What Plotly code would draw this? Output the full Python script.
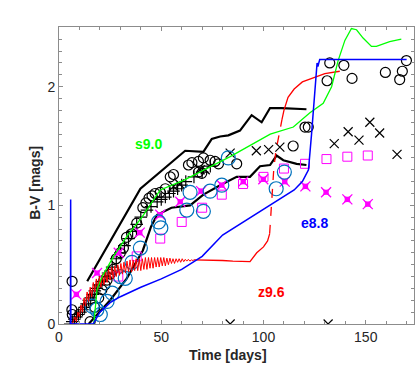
import plotly.graph_objects as go

# ---- model curves ----
# e8.8 (blue)
e88_spike_t = [5.6, 5.7, 5.8, 16.7]
e88_spike_v = [0.0, 1.05, 0.0, 0.0]
e88_t = [16.7, 20, 25, 30, 40, 50, 60, 70, 80, 90, 100, 110, 115, 119, 122,
         123.5, 125.5, 126.2, 126.6, 127.5, 150, 170]
e88_v = [0.0, 0.1, 0.18, 0.23, 0.31, 0.38, 0.46, 0.57, 0.75, 0.86, 0.97, 1.08,
         1.13, 1.2, 1.3, 1.6, 2.0, 2.2, 2.17, 2.23, 2.23, 2.23]

# z9.6 (red): noisy early part, smooth plateau, dashed jump, late rise
z96_noisy_t = [6.5, 7, 7.75, 8.5, 9.25, 10, 10.75, 11.5, 12.25, 13, 13.75, 14.5,
               15.25, 16, 16.75, 17.5, 18.25, 19, 19.75, 20.5, 21.25, 22, 22.75,
               23.5, 24.25, 25, 25.75, 26.5, 27.25, 28, 28.75, 29.5, 30.25, 31,
               31.75, 32.5, 33.25, 34, 34.75, 35.5, 36.25, 37, 37.75, 38.5,
               39.25, 40, 40.75, 41.5, 42.25, 43, 43.75, 44.5, 45.25, 46, 46.75,
               47.5, 48.25, 49, 49.75, 50.5, 51.25, 52, 52.75, 53.5, 54.25, 55,
               55.75, 56.5, 57.25, 58, 58.75, 59.5, 60.25, 61, 61.75, 62.5,
               63.25, 64, 64.75, 65.5, 66]
z96_noisy_v = [0.0, 0.02, 0.06, 0.02, 0.10, 0.06, 0.16, 0.10, 0.22, 0.15, 0.27,
               0.19, 0.31, 0.23, 0.35, 0.27, 0.38, 0.29, 0.40, 0.31, 0.42, 0.33,
               0.44, 0.35, 0.46, 0.37, 0.48, 0.38, 0.49, 0.40, 0.50, 0.41, 0.51,
               0.42, 0.52, 0.43, 0.53, 0.44, 0.54, 0.44, 0.54, 0.45, 0.55, 0.45,
               0.55, 0.45, 0.55, 0.46, 0.56, 0.46, 0.56, 0.47, 0.56, 0.47, 0.56,
               0.48, 0.56, 0.48, 0.56, 0.49, 0.56, 0.49, 0.555, 0.50, 0.555,
               0.51, 0.55, 0.51, 0.55, 0.52, 0.55, 0.52, 0.55, 0.525, 0.545,
               0.53, 0.545, 0.53, 0.54, 0.535, 0.54]
z96_t = [66, 70, 75, 80, 85, 90, 93.4, 96.7, 100, 102, 103]
z96_v = [0.54, 0.54, 0.54, 0.535, 0.53, 0.525, 0.525, 0.60, 0.65, 0.70, 0.76]
z96_dash_t = [103, 103.5, 104, 105, 106, 107.5, 109]
z96_dash_v = [0.76, 0.9, 1.1, 1.3, 1.45, 1.6, 1.72]
z96_late_t = [109, 110, 112, 115, 119, 125, 130, 137.3]
z96_late_v = [1.72, 1.80, 1.91, 1.98, 2.04, 2.08, 2.11, 2.13]

# s9.0 (green)
s90_t = [17, 18.6, 21.1, 26.7, 33.3, 40.6, 49.5, 60.9, 83.7, 103.3, 114.6,
         122.7, 129.2, 133.3, 136.5, 139.8, 143, 145.5, 148.7, 152.8, 155.2,
         161.7, 167.4]
s90_v = [0.0, 0.29, 0.40, 0.57, 0.74, 0.90, 1.13, 1.21, 1.41, 1.60, 1.66, 1.78,
         1.86, 2.0, 2.22, 2.39, 2.49, 2.48, 2.41, 2.34, 2.34, 2.38, 2.40]

# black envelope lines
upper_t = [13.8, 39.8, 61.7, 70.6, 74.7, 78.8, 82.8, 88.5, 94.2, 99.1, 103.2,
           108.9, 121]
upper_v = [0.36, 1.14, 1.46, 1.45, 1.56, 1.58, 1.59, 1.63, 1.76, 1.70, 1.82,
           1.82, 1.81]
lower_t = [14.5, 25, 33, 41, 45, 48, 55, 64.1, 70.6, 78.8, 86.9, 93.4, 98.3,
           103.2, 106.4, 109.7, 116.2, 121]
lower_v = [0.0, 0.2, 0.38, 0.62, 0.82, 0.92, 0.98, 1.0, 1.09, 1.17, 1.24, 1.24,
           1.33, 1.34, 1.42, 1.38, 1.35, 1.34]

# ---- observations ----
circ_t = [6.4, 6.3, 6.5, 15.2, 17.5, 19.4, 21, 22.5, 23.5, 25, 26.5, 28, 30,
          31.5, 33, 35.5, 38, 41, 42.5, 44, 45.5, 47, 49.5, 52, 54.4, 56, 63.3,
          65, 68.2, 70.6, 73.9, 76.3, 78, 86.9, 68.2, 69.8, 114.5, 120.3, 121.9,
          131.1, 132.4, 139.3, 143.3, 159.6, 166.6, 167.9, 169.9]
circ_v = [0.36, 0.12, 0.08, 0.02, 0.14, 0.22, 0.29, 0.33, 0.37, 0.42, 0.46,
          0.55, 0.6, 0.64, 0.73, 0.76, 0.85, 0.98, 1.02, 1.06, 1.08, 1.1, 1.11,
          1.14, 1.24, 1.26, 1.34, 1.36, 1.37, 1.4, 1.38, 1.37, 1.35, 1.35, 1.28,
          1.27, 1.5, 1.66, 1.66, 2.05, 2.2, 2.18, 2.07, 2.12, 2.06, 2.13, 2.22]

plus_t = [5.5, 6.5, 7.5, 8.5, 9.5, 10.5, 11.5, 12.5, 13.5, 14.5, 15.5, 16.5,
          17.5, 18.5, 19.5, 21, 22.5, 24, 26, 28, 30, 32, 34, 36, 38, 40, 43,
          45, 48, 50, 52, 54, 56, 58, 60, 62, 66, 70, 74]
plus_v = [0.0, 0.02, 0.04, 0.06, 0.08, 0.1, 0.12, 0.14, 0.17, 0.2, 0.22, 0.25,
          0.28, 0.3, 0.33, 0.36, 0.4, 0.43, 0.48, 0.55, 0.6, 0.66, 0.72, 0.78,
          0.84, 0.9, 0.96, 0.99, 1.03, 1.05, 1.07, 1.1, 1.12, 1.14, 1.17, 1.2,
          1.24, 1.28, 1.33]

cross_t = [56, 59, 69, 71.5, 83.7, 96.5, 102.5, 108, 134.6, 141.4, 146.7, 152,
           156.8, 165.3, 83.7, 131.6]
cross_v = [1.16, 1.18, 1.3, 1.3, 1.44, 1.46, 1.47, 1.49, 1.52, 1.62, 1.55, 1.70,
           1.61, 1.43, 0.0, 0.0]

bcirc_t = [16.2, 18.5, 20.2, 23.5, 26, 30, 32.4, 35.7, 39.8, 48.7, 49.8, 62.5,
           64.1, 70.6, 73.9, 79.6, 82.8, 106.2, 110.2]
bcirc_v = [0.15, 0.12, 0.08, 0.19, 0.26, 0.40, 0.385, 0.52, 0.64, 0.86, 0.81,
           0.96, 1.11, 0.95, 1.12, 1.17, 1.40, 1.14, 1.28]

sq_t = [29, 38, 49.5, 60, 70, 79.6, 90, 100, 110, 120.3, 130.8, 141, 151]
sq_v = [0.40, 0.57, 0.72, 0.86, 0.98, 1.09, 1.18, 1.24, 1.31, 1.35, 1.39, 1.41,
        1.42]

star_t = [8.5, 18.6, 29.2, 39.5, 49.5, 59.3, 69.5, 79.6, 90.1, 99.9, 110.4,
          120.5, 130.6, 141, 151]
star_v = [0.25, 0.43, 0.60, 0.77, 0.92, 1.03, 1.12, 1.17, 1.20, 1.22, 1.20,
          1.16, 1.11, 1.05, 1.01]

# labelled ticks and unlabelled minor ticks
x_major = [0, 50, 100, 150]
x_minor = [10, 20, 30, 40, 60, 70, 80, 90, 110, 120, 130, 140, 160, 170]
y_major = [0, 1, 2]
y_minor = [0.1, 0.2, 0.3, 0.4, 0.5, 0.6, 0.7, 0.8, 0.9,
           1.1, 1.2, 1.3, 1.4, 1.5, 1.6, 1.7, 1.8, 1.9,
           2.1, 2.2, 2.3, 2.4, 2.5]

labels = ['s9.0', 'e8.8', 'z9.6']
label_t = [43.8, 125.1, 104]
label_v = [1.52, 0.85, 0.27]
label_col = ['#00ff00', '#0000ff', '#ff0000']

fig = go.Figure()


def line(t, v, color, width, dash='solid'):
    fig.add_trace(go.Scatter(x=t, y=v, mode='lines',
                             line=dict(color=color, width=width, dash=dash)))


def pts(t, v, symbol, color, size, width=1.2):
    fig.add_trace(go.Scatter(x=t, y=v, mode='markers',
                             marker=dict(symbol=symbol, size=size, color=color,
                                         line=dict(color=color, width=width))))


# black envelopes
line(upper_t, upper_v, 'black', 2.2)
line(lower_t, lower_v, 'black', 2.2)

# observed points
pts(plus_t, plus_v, 'cross-thin-open', 'black', 9)
pts(circ_t, circ_v, 'circle-open', 'black', 10)
pts(cross_t, cross_v, 'x-thin-open', 'black', 9)
pts(sq_t, sq_v, 'square-open', '#ff00ff', 9, 1)
# magenta: thin x with a filled centre
pts(star_t, star_v, 'x-thin-open', '#ff00ff', 10, 1.3)
pts(star_t, star_v, 'star-square', '#ff00ff', 7, 0)
pts(bcirc_t, bcirc_v, 'circle-open', '#0072bd', 14)

# models
line(z96_noisy_t, z96_noisy_v, '#ff0000', 1)
line(z96_t, z96_v, '#ff0000', 1.3)
line(z96_dash_t, z96_dash_v, '#ff0000', 1.3, 'dash')
line(z96_late_t, z96_late_v, '#ff0000', 1.3)
line(s90_t, s90_v, '#00ff00', 1.3)
line(e88_spike_t, e88_spike_v, '#0000ff', 1.5)
line(e88_t, e88_v, '#0000ff', 1.5)

for txt, t, v, c in zip(labels, label_t, label_v, label_col):
    fig.add_annotation(x=t, y=v, xref='x', yref='y', text='<b>%s</b>' % txt,
                       showarrow=False, font=dict(color=c, size=14))

axis_font = dict(family='Liberation Sans, Arial, sans-serif', size=14,
                 color='#262626')
fig.add_annotation(x=0.476, y=-0.104, xref='paper', yref='paper',
                   xanchor='center', yanchor='middle',
                   text='<b>Time [days]</b>', showarrow=False, font=axis_font)
fig.add_annotation(x=-0.068, y=0.475, xref='paper', yref='paper',
                   xanchor='center', yanchor='middle',
                   text='<b>B-V [mags]</b>', textangle=-90, showarrow=False,
                   font=axis_font)

common = dict(ticks='inside', ticklen=4, tickcolor='#8c8c8c', showline=True,
              linecolor='#8c8c8c', linewidth=1, mirror='ticks', showgrid=False,
              zeroline=False, automargin=False,
              tickfont=dict(size=14, color='#262626'),
              tickprefix='<b>', ticksuffix='</b>')

fig.update_layout(
    width=415, height=365,
    margin=dict(l=59, r=1, t=27, b=41),
    paper_bgcolor='white', plot_bgcolor='white',
    showlegend=False,
    font=axis_font,
    xaxis=dict(range=[0, 173.6], tickvals=x_major,
               minor=dict(tickvals=x_minor, ticks='inside', ticklen=3,
                          tickcolor='#8c8c8c', showgrid=False),
               **common),
    yaxis=dict(range=[0, 2.503], tickvals=y_major,
               minor=dict(tickvals=y_minor, ticks='inside', ticklen=3,
                          tickcolor='#8c8c8c', showgrid=False),
               **common),
)

fig.write_html("out.html", config={'displayModeBar': False},
               post_script="document.body.style.margin = '0px';")
